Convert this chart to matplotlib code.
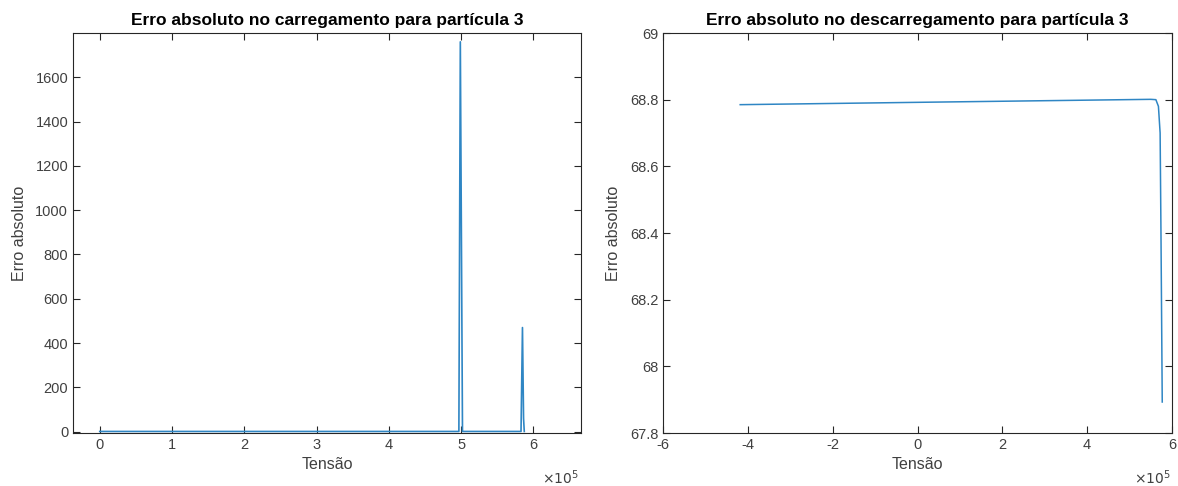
import numpy as np
import matplotlib
matplotlib.use("Agg")
from matplotlib import pyplot as plt

# dados (carregamento)
carga_x = [0.0, 4.97e5, 4.99e5, 5.02e5, 5.83e5, 5.85e5, 5.865e5, 5.875e5]
carga_y = [1.0, 1.0, 1760.0, 1.0, 1.0, 470.0, 60.0, 1.0]

# descarregamento
desc_x = [-4.18e5, 0.0, 5.5e5, 5.62e5, 5.68e5, 5.72e5, 5.74e5, 5.77e5]
desc_y = [68.785, 68.792, 68.801, 68.80, 68.78, 68.70, 68.40, 67.893]

titles = ["Erro absoluto no carregamento para partícula 3",
          "Erro absoluto no descarregamento para partícula 3"]

plt.rcParams['font.family'] = ['Liberation Sans', 'DejaVu Sans']
W, H = 1178, 486
fig = plt.figure(figsize=(W / 100, H / 100), dpi=100)

line_color = '#2f86c4'
txt = '#404040'

ax1 = fig.add_axes([73 / W, (H - 433) / H, (581 - 73) / W, 400 / H])
ax2 = fig.add_axes([663 / W, (H - 433) / H, (1172 - 663) / W, 400 / H])

ax1.plot(carga_x, carga_y, color=line_color, lw=1.2)
ax1.set_xlim(-0.37e5, 6.66e5)
ax1.set_ylim(-6, 1800)
ax1.set_xticks(np.arange(0, 7) * 1e5)
ax1.set_xticklabels([str(i) for i in range(7)])
ax1.set_yticks(np.arange(0, 1601, 200))

ax2.plot(desc_x, desc_y, color=line_color, lw=1.1)
ax2.set_xlim(-6e5, 6e5)
ax2.set_ylim(67.8, 69)
ax2.set_xticks(np.arange(-6, 7, 2) * 1e5)
ax2.set_xticklabels([str(i) for i in range(-6, 7, 2)])
ax2.set_yticks([67.8, 68, 68.2, 68.4, 68.6, 68.8, 69])
ax2.set_yticklabels(["67.8", "68", "68.2", "68.4", "68.6", "68.8", "69"])

for ax, t in zip([ax1, ax2], titles):
    ax.set_title(t, fontsize=12.5, fontweight='bold', color='black', pad=6)
    ax.set_xlabel("Tensão", fontsize=11.5, color=txt, labelpad=4)
    ax.set_ylabel("Erro absoluto", fontsize=11.5, color=txt, labelpad=6)
    ax.tick_params(direction='in', top=True, right=True, length=5,
                   width=0.8, colors='#262626', labelcolor=txt, labelsize=10.5)
    for s in ax.spines.values():
        s.set_color('#262626')
        s.set_linewidth(0.8)

fig.text(560 / W, 1 - 478 / H, r"$\times10^5$", color=txt, fontsize=10,
         ha='center', va='center')
fig.text(1152 / W, 1 - 478 / H, r"$\times10^5$", color=txt, fontsize=10,
         ha='center', va='center')

fig.savefig("out.png", dpi=100, facecolor='white')
